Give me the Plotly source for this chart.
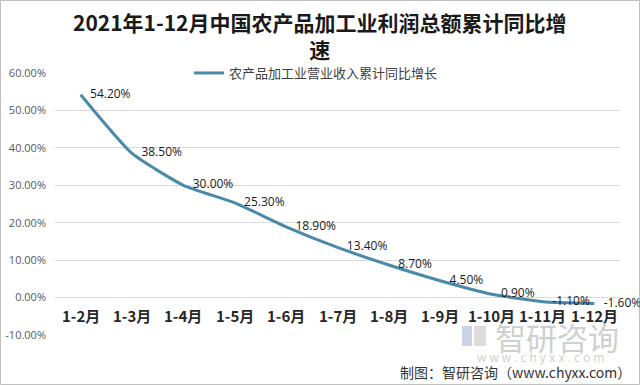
import plotly.graph_objects as go

categories = ["1-2月", "1-3月", "1-4月", "1-5月", "1-6月", "1-7月", "1-8月", "1-9月", "1-10月", "1-11月", "1-12月"]
values = [54.2, 38.5, 30.0, 25.3, 18.9, 13.4, 8.7, 4.5, 0.9, -1.1, -1.6]
value_labels = ["54.20%", "38.50%", "30.00%", "25.30%", "18.90%", "13.40%", "8.70%", "4.50%", "0.90%", "-1.10%", "-1.60%"]
y_ticks = [-10, 0, 10, 20, 30, 40, 50, 60]
y_tick_labels = ["-10.00%", "0.00%", "10.00%", "20.00%", "30.00%", "40.00%", "50.00%", "60.00%"]
series_name = "农产品加工业营业收入累计同比增长"
title_text = "2021年1-12月中国农产品加工业利润总额累计同比增<br>速"

W, H = 640, 385
L, R, T, B = 55, 20, 73, 50
PW, PH = W - L - R, H - T - B

def px(x):
    return (x - L) / PW

def py(y):
    return (H - B - y) / PH

CJK = "Noto Sans CJK SC"

fig = go.Figure()
fig.add_trace(go.Scatter(
    x=categories, y=values, mode="lines+text", name=series_name,
    line=dict(color="#4a89aa", width=3, shape="spline", smoothing=0.5),
    text=value_labels, texttemplate="   %{text}", textposition="middle right",
    textfont=dict(family="Open Sans", size=12, color="#1a1a1a"),
    cliponaxis=False,
))

annotations = [
    dict(x=px(320), y=py(35), xref="paper", yref="paper", text=title_text, showarrow=False,
         xanchor="center", yanchor="middle",
         font=dict(family=CJK, size=21, color="#1a1a1a", weight="bold")),
]
for c in categories:
    annotations.append(dict(x=c, y=0, xref="x", yref="y", text=c, showarrow=False,
                            yshift=-18, yanchor="middle",
                            font=dict(family=CJK, size=15, color="#262626", weight="bold")))

annotations += [
    dict(x=px(557), y=py(336), xref="paper", yref="paper", text="智研咨询", showarrow=False,
         xanchor="center", yanchor="middle", font=dict(family=CJK, size=31, color="#cfcfcf")),
    dict(x=px(540), y=py(357), xref="paper", yref="paper", text="w w w . c h y x x . c o m", showarrow=False,
         xanchor="center", yanchor="middle", font=dict(family="Open Sans", size=12, color="#cfcfcf")),
    dict(x=px(633), y=py(372), xref="paper", yref="paper", text="制图：智研咨询（www.chyxx.com）", showarrow=False,
         xanchor="right", yanchor="middle", font=dict(family=CJK, size=14, color="#333333")),
]

shapes = [
    dict(type="rect", xref="paper", yref="paper", x0=px(0.5), x1=px(639.5), y0=py(384.5), y1=py(0.5),
         line=dict(color="#bfbfbf", width=1), layer="below"),
    dict(type="rect", xref="paper", yref="paper", x0=px(462), x1=px(472), y0=py(346), y1=py(326),
         fillcolor="#c9d3e6", line=dict(width=0)),
    dict(type="rect", xref="paper", yref="paper", x0=px(474), x1=px(486), y0=py(346), y1=py(326),
         fillcolor="#dcdcdc", line=dict(width=0)),
]

fig.update_layout(
    width=W, height=H,
    margin=dict(l=L, r=R, t=T, b=B, autoexpand=False),
    paper_bgcolor="white", plot_bgcolor="white",
    showlegend=True,
    legend=dict(orientation="h", x=px(316), xanchor="center", y=1, yanchor="middle",
                bgcolor="rgba(0,0,0,0)", font=dict(family=CJK, size=13, color="#404040"),
                itemwidth=30),
    xaxis=dict(type="category", range=[-0.5, 10.5], showticklabels=False, showgrid=False,
               zeroline=False, showline=False, ticks="", automargin=False),
    yaxis=dict(range=[-10, 60], tickvals=y_ticks, ticktext=y_tick_labels, showgrid=True,
               gridcolor="#d9d9d9", gridwidth=1, zeroline=False, showline=False, ticks="",
               ticklabelstandoff=8, automargin=False,
               tickfont=dict(family="Open Sans", size=11, color="#595959")),
    annotations=annotations, shapes=shapes,
)

fig.write_html("out.html", config={"displayModeBar": False},
               post_script="document.body.style.margin='0';")
